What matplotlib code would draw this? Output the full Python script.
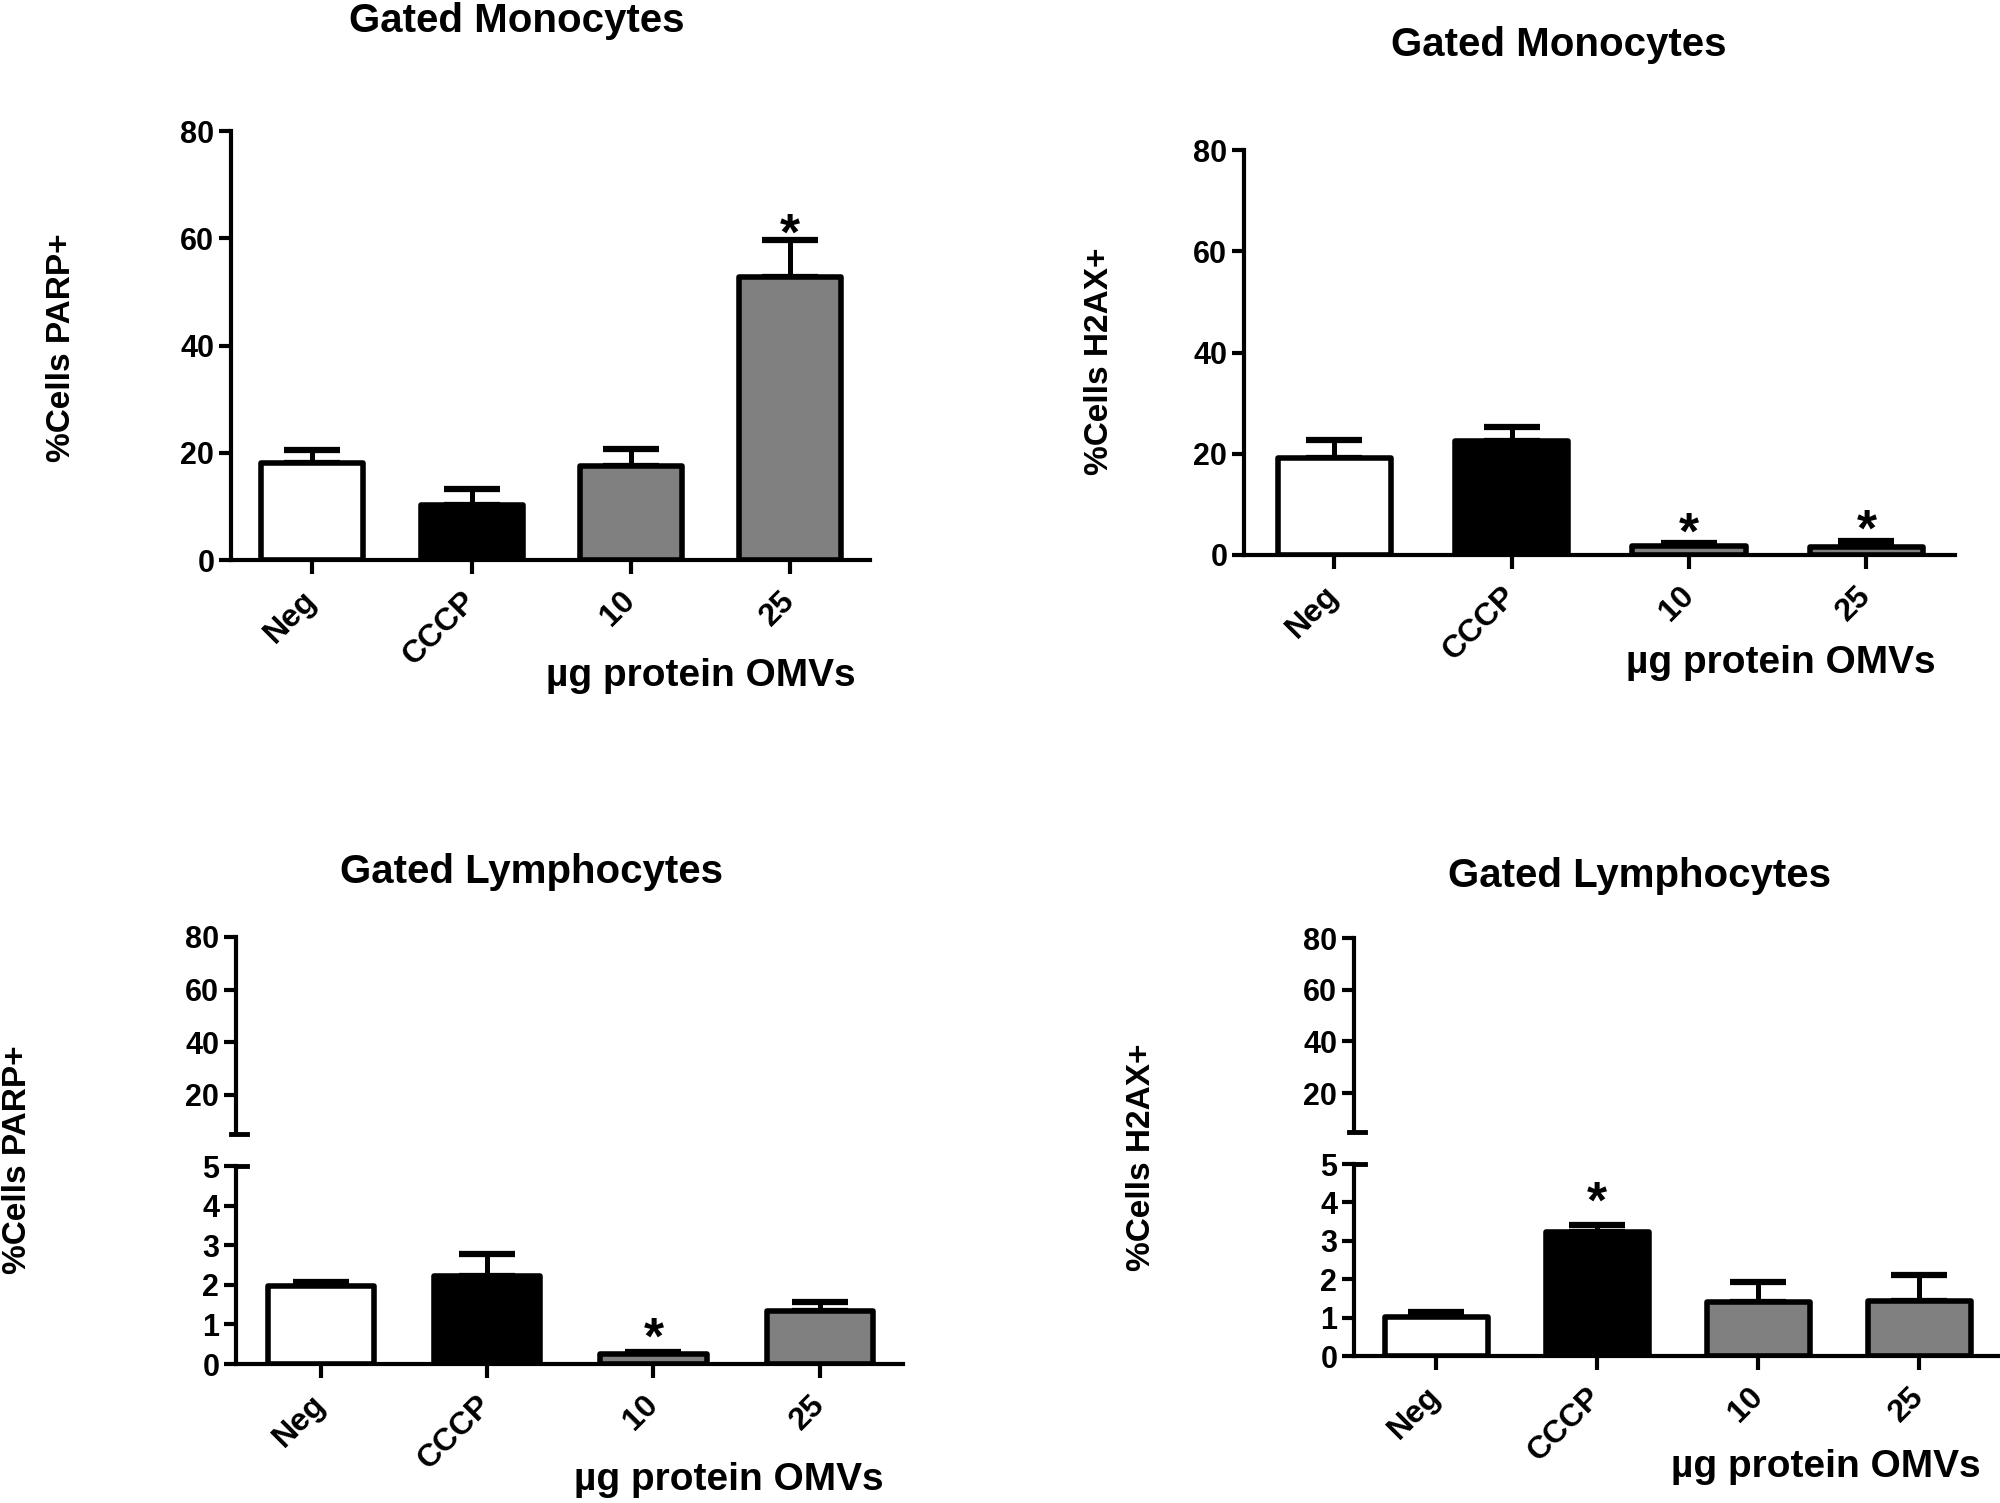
import matplotlib
matplotlib.use("Agg")
import matplotlib.pyplot as plt

groups = ["Neg", "CCCP", "10", "25"]
bar_colors = ["white", "black", "#808080", "#808080"]

mono_parp = [18.1, 10.3, 17.5, 52.7]
mono_parp_err = [2.4, 2.9, 3.2, 6.9]
mono_parp_star = [False, False, False, True]

mono_h2ax = [19.1, 22.5, 1.8, 1.65]
mono_h2ax_err = [3.6, 2.7, 0.5, 1.15]
mono_h2ax_star = [False, False, True, True]

lymph_parp = [1.98, 2.22, 0.25, 1.35]
lymph_parp_err = [0.09, 0.56, 0.06, 0.21]
lymph_parp_star = [False, False, True, False]

lymph_h2ax = [1.02, 3.24, 1.40, 1.42]
lymph_h2ax_err = [0.12, 0.17, 0.53, 0.70]
lymph_h2ax_star = [False, True, False, False]

FONT = ["Liberation Sans", "DejaVu Sans"]

W, H = 2000, 1503
fig = plt.figure(figsize=(W / 100, H / 100), dpi=100)

LW = 4.0


def px_axes(left, right, top, bottom):
    return fig.add_axes([left / W, 1 - bottom / H, (right - left) / W, (bottom - top) / H])


def style(ax, show_x=True):
    for s in ["top", "right"]:
        ax.spines[s].set_visible(False)
    ax.spines["left"].set_linewidth(3.0)
    ax.spines["bottom"].set_linewidth(3.0)
    ax.tick_params(axis="y", length=9, width=3, pad=3)
    ax.tick_params(axis="x", length=10, width=3, pad=16)
    for t in ax.get_yticklabels():
        t.set_fontfamily(FONT)
        t.set_fontweight("bold")
        t.set_fontsize(22)
    ax.set_xlim(-0.51, 3.5)
    if show_x:
        ax.set_xticks(range(len(groups)))
        ax.set_xticklabels(groups, rotation=45, ha="right", va="center",
                           rotation_mode="anchor", fontfamily=FONT,
                           fontweight="bold", fontsize=23)
    else:
        ax.spines["bottom"].set_visible(False)
        ax.set_xticks([])


def draw_bars(ax, vals, errs, stars, star_off):
    x = list(range(len(groups)))
    ax.errorbar(x, vals, yerr=[[0] * len(errs), errs], fmt="none", ecolor="black",
                elinewidth=3.6, capsize=20, capthick=4.5, zorder=1)
    bars = ax.bar(x, vals, width=0.64, color=bar_colors, edgecolor="black",
                  linewidth=LW, zorder=2)
    for b in bars:
        b.set_joinstyle("round")
    for i, flag in enumerate(stars):
        if flag:
            ax.annotate("*", (i, vals[i] + errs[i]), xytext=(0, star_off),
                        textcoords="offset points", ha="center", va="center",
                        fontsize=37, fontweight="bold", fontfamily=FONT)


def simple_panel(box, vals, errs, stars, star_off):
    ax = px_axes(*box)
    draw_bars(ax, vals, errs, stars, star_off)
    ax.set_ylim(0, 80)
    ax.set_yticks([0, 20, 40, 60, 80])
    style(ax)
    return ax


def broken_panel(left, right, top, mid_top, mid_bot, bottom, vals, errs, stars, star_off):
    up = px_axes(left, right, top, mid_top)
    lo = px_axes(left, right, mid_bot, bottom)
    # all lymphocyte values stay below 5, so the upper segment holds only the axis
    up.set_ylim(5, 80)
    up.set_yticks([20, 40, 60, 80])
    style(up, show_x=False)
    up.plot([-0.008, 0.017], [0, 0], transform=up.transAxes, color="black",
            lw=3.5, clip_on=False)
    draw_bars(lo, vals, errs, stars, star_off)
    lo.set_ylim(0, 5)
    lo.set_yticks([0, 1, 2, 3, 4, 5])
    style(lo)
    lo.plot([0, 0.017], [1, 1], transform=lo.transAxes, color="black",
            lw=3.5, clip_on=False)
    return up, lo


simple_panel((231, 870, 131, 560), mono_parp, mono_parp_err, mono_parp_star, 3)
simple_panel((1244, 1955, 150, 555), mono_h2ax, mono_h2ax_err, mono_h2ax_star, 6)
broken_panel(236, 903, 937, 1134, 1166, 1364, lymph_parp, lymph_parp_err,
             lymph_parp_star, 8)
broken_panel(1354, 2000, 938, 1132, 1164, 1356, lymph_h2ax, lymph_h2ax_err,
             lymph_h2ax_star, 15)


def ftext(x, y, s, **kw):
    fig.text(x / W, 1 - y / H, s, **kw)


title_kw = dict(ha="center", va="center", fontsize=29, fontweight="bold", fontfamily=FONT)
ftext(517, 21, "Gated Monocytes", **title_kw)
ftext(1559, 45, "Gated Monocytes", **title_kw)
ftext(531, 872, "Gated Lymphocytes", **title_kw)
ftext(1640, 876, "Gated Lymphocytes", **title_kw)

ylab_kw = dict(ha="center", va="center", rotation=90, fontsize=24, fontweight="bold", fontfamily=FONT)
ftext(62, 348, "%Cells PARP+", **ylab_kw)
ftext(1100, 361, "%Cells H2AX+", **ylab_kw)
ftext(18, 1160, "%Cells PARP+", **ylab_kw)
ftext(1142, 1157, "%Cells H2AX+", **ylab_kw)

xlab_kw = dict(ha="right", va="center", fontsize=28, fontweight="bold", fontfamily=FONT)
ftext(856, 676, "µg protein OMVs", **xlab_kw)
ftext(1936, 663, "µg protein OMVs", **xlab_kw)
ftext(884, 1480, "µg protein OMVs", **xlab_kw)
ftext(1981, 1467, "µg protein OMVs", **xlab_kw)

fig.savefig("out.png", dpi=100, facecolor="white")
